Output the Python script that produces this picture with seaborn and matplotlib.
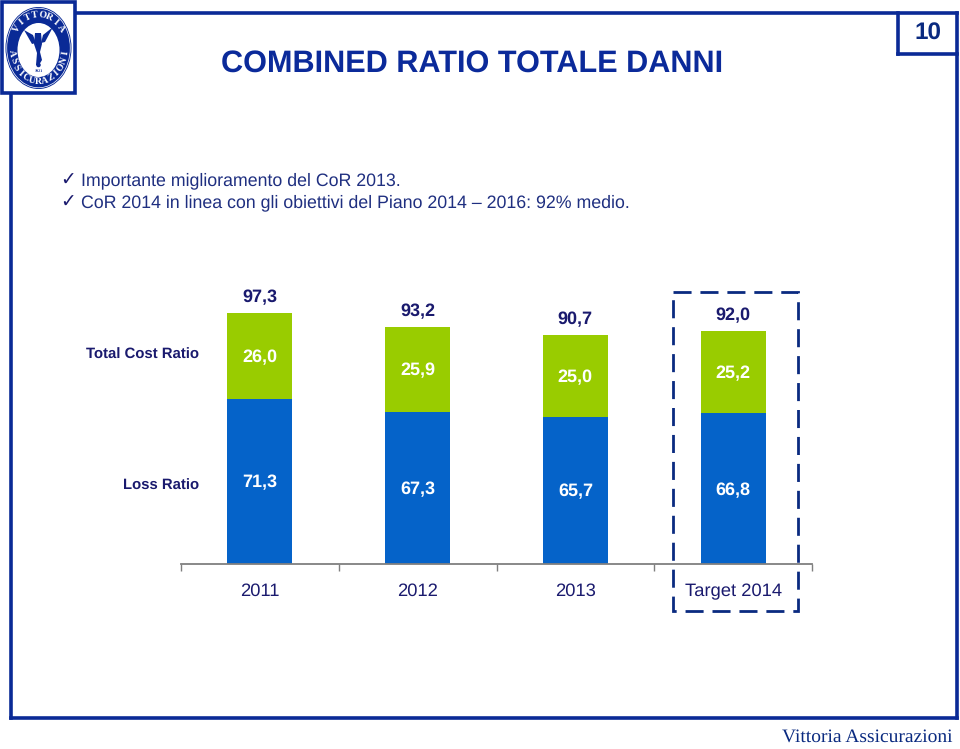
import numpy as np
import pandas as pd
import matplotlib
matplotlib.use("Agg")
import matplotlib.pyplot as plt
import seaborn as sns
from matplotlib.patches import Ellipse, Polygon, Rectangle

# Chart values
categories = ["2011", "2012", "2013", "Target 2014"]
loss_ratio = [71.3, 67.3, 65.7, 66.8]
cost_ratio = [26.0, 25.9, 25.0, 25.2]
combined_ratio = [97.3, 93.2, 90.7, 92.0]
row_labels = ["Total Cost Ratio", "Loss Ratio"]
title = "COMBINED RATIO TOTALE DANNI"
bullets = ["Importante miglioramento del CoR 2013.",
           "CoR 2014 in linea con gli obiettivi del Piano 2014 \u2013 2016: 92% medio."]

BLUE = "#0563c9"
GREEN = "#99cc00"
NAVY = "#1a1a6e"
FRAME = "#0a2a96"
W, H = 960, 749

sns.set_theme(style="white")
plt.rcParams["font.family"] = ["Liberation Sans", "DejaVu Sans"]
plt.rcParams["text.hinting"] = "no_hinting"

fig = plt.figure(figsize=(W / 100, H / 100), dpi=100, facecolor="white")

# page layer in pixel coordinates
page = fig.add_axes([0, 0, 1, 1])
page.set_xlim(0, W)
page.set_ylim(H, 0)
page.axis("off")


def frame_line(xs, ys):
    page.plot(xs, ys, color=FRAME, lw=2.6, solid_capstyle="projecting")


frame_line([76, 957], [13, 13])
frame_line([957, 957], [13, 718])
frame_line([11, 957], [718, 718])
frame_line([11, 11], [93, 718])
frame_line([898, 898], [13, 54])
frame_line([898, 957], [54, 54])
page.text(928, 33.5, "10", color="#0a2a80", fontsize=17.5, fontweight="bold", ha="center", va="center")

page.text(221, 64, title, color="#0b2a9a", fontsize=22.1, fontweight="bold", ha="left", va="center")

for y, line in zip([181, 203], bullets):
    page.text(60, y, "\u2713", color=NAVY, fontsize=13.5, family="DejaVu Sans", ha="left", va="center")
    page.text(81, y, line, color="#1f2f80", fontsize=12.8, ha="left", va="center")

page.text(953, 737.5, "Vittoria Assicurazioni", color="#0a2a80", fontsize=14,
          family="Liberation Serif", ha="right", va="center")


# logo
def draw_logo(cx=38.5, cy=48, rx=33, ry=41):
    page.add_patch(Rectangle((2, 2), 73, 91, fc="white", ec=FRAME, lw=2.6, zorder=3))
    page.add_patch(Ellipse((cx, cy), 2 * rx, 2 * ry, fc=FRAME, ec="none", zorder=4))
    page.add_patch(Ellipse((cx, cy), 2 * rx - 2.5, 2 * ry - 2.5, fc="none", ec="white", lw=0.5, zorder=5))
    page.add_patch(Ellipse((cx, 50), 42, 54, fc="white", ec="none", zorder=5))
    # lettering around the ring
    for word, start, stop in [("VITTORIA", 145, 35), ("ASSICURAZIONI", 188, 352)]:
        angles = np.linspace(start, stop, len(word))
        for ch, a in zip(word, angles):
            rad = np.deg2rad(a)
            px = cx + (rx - 6) * np.cos(rad)
            py = cy - (ry - 7.5) * np.sin(rad)
            rot = a - 90 if start > stop else a + 90
            page.text(px, py, ch, color="white", fontsize=7, fontweight="bold",
                      family="Liberation Serif", rotation=rot, ha="center", va="center",
                      rotation_mode="anchor", zorder=6)
    # winged figure
    wing_l = [(24, 30), (33, 35), (36, 43), (32, 44)]
    wing_r = [(53, 27), (43, 35), (41, 43), (45, 42)]
    body = [(35, 33), (41, 33), (42, 44), (40, 52), (42, 60), (39, 65), (36, 65), (37, 53), (34, 44)]
    for pts in (wing_l, wing_r, body):
        page.add_patch(Polygon(pts, closed=True, fc=FRAME, ec="none", zorder=6))
    page.add_patch(Ellipse((cx, 65), 4.5, 4.5, fc=FRAME, ec="none", zorder=6))
    page.text(cx, 70.5, "1921", color=FRAME, fontsize=3, fontweight="bold", ha="center",
              va="center", family="Liberation Serif", zorder=6)


draw_logo()

# chart: axis starts above zero as in the slide
df = pd.DataFrame({"year": categories, "loss": loss_ratio, "cost": cost_ratio, "total": combined_ratio})

ax = fig.add_axes([181 / W, 1 - 564 / H, (812 - 181) / W, (564 - 270) / H])
ax.patch.set_alpha(0)
bar_w = 0.412
sns.barplot(data=df, x="year", y="total", color=GREEN, saturation=1, width=bar_w, linewidth=0, ax=ax)
sns.barplot(data=df, x="year", y="loss", color=BLUE, saturation=1, width=bar_w, linewidth=0, ax=ax)
y0 = 21
ax.set_ylim(y0, 110.4)
ax.set_xlim(-0.5, 3.5)
ax.set_xlabel("")
ax.set_ylabel("")
ax.set_yticks([])
sns.despine(ax=ax, left=True)
ax.spines["bottom"].set_color("#7f7f7f")
ax.spines["bottom"].set_linewidth(1.3)
ax.set_xticks(np.arange(-0.5, 4, 1), minor=True)
ax.tick_params(axis="x", which="minor", bottom=True, length=5, width=1, color="#7f7f7f")
ax.tick_params(axis="x", which="major", bottom=False, length=0, pad=13.5, labelsize=13.2, labelcolor=NAVY)

fmt = lambda v: f"{v:.1f}".replace(".", ",")
for i in range(len(categories)):
    ax.annotate(fmt(combined_ratio[i]), (i, combined_ratio[i]), xytext=(0, 11), textcoords="offset points",
                ha="center", va="center", color=NAVY, fontsize=13, fontweight="bold")
    ax.annotate(fmt(cost_ratio[i]), (i, loss_ratio[i] + cost_ratio[i] / 2), xytext=(0, -1), textcoords="offset points",
                ha="center", va="center", color="white", fontsize=13, fontweight="bold")
    ax.annotate(fmt(loss_ratio[i]), (i, (y0 + loss_ratio[i]) / 2), xytext=(0, -1), textcoords="offset points",
                ha="center", va="center", color="white", fontsize=13, fontweight="bold")

page.text(199, 355, row_labels[0], color=NAVY, fontsize=10.7, fontweight="bold", ha="right", va="center")
page.text(199, 486, row_labels[1], color=NAVY, fontsize=10.7, fontweight="bold", ha="right", va="center")

# dashed box around the target column
over = fig.add_axes([0, 0, 1, 1])
over.set_xlim(0, W)
over.set_ylim(H, 0)
over.axis("off")
over.add_patch(Rectangle((673, 292), 125, 319, fc="none", ec="#0a2a80", lw=2,
                         linestyle=(0, (6.5, 3.2))))

fig.savefig("out.png", dpi=100)
